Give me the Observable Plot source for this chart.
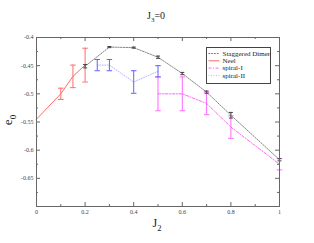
<!DOCTYPE html>
<html>
<head>
<meta charset="utf-8">
<script src="https://cdn.jsdelivr.net/npm/d3@7"></script>
<script src="https://cdn.jsdelivr.net/npm/@observablehq/plot@0.6"></script>
<style>
html,body{margin:0;padding:0;background:#fff;}
</style>
</head>
<body>
<div id="chart"></div>
<script>
// ---- data ----
const dimerJ2  = [0.2, 0.3, 0.4, 0.5, 0.6, 0.7, 0.8, 1.0];
const dimerE   = [-0.451, -0.417, -0.418, -0.435, -0.464, -0.497, -0.538, -0.617];
const dimerErr = [0.003, 0.001, 0.001, 0.002, 0.002, 0.002, 0.005, 0.002];

const neelJ2  = [0, 0.1, 0.15, 0.2];
const neelE   = [-0.545, -0.5, -0.469, -0.449];
const neelErr = [0, 0.01, 0.02, 0.03];

const spiral1J2  = [0.5, 0.6, 0.7, 0.8, 1.0];
const spiral1E   = [-0.5, -0.5, -0.517, -0.559, -0.625];
const spiral1Err = [0.03, 0.03, 0.02, 0.02, 0.01];

const spiral2J2  = [0.25, 0.3, 0.4, 0.5];
const spiral2E   = [-0.449, -0.449, -0.479, -0.46];
const spiral2Err = [0.01, 0.01, 0.02, 0.01];

const xTickLabels = [0, 0.2, 0.4, 0.6, 0.8, 1];
const xMinorTicks = [0.1, 0.3, 0.5, 0.7, 0.9];
const yTickLabels = [-0.65, -0.6, -0.55, -0.5, -0.45, -0.4];
const yMinorTicks = [-0.675, -0.625, -0.575, -0.525, -0.475, -0.425];

const seriesNames = ["Staggered Dimer", "Neel", "spiral-I", "spiral-II"];

// ---- build tables ----
const zip = (xs, ys, es) => xs.map((x, i) => ({x, y: ys[i], e: es[i]}));
const dimer = zip(dimerJ2, dimerE, dimerErr);
const neel = zip(neelJ2, neelE, neelErr);
const spiral1 = zip(spiral1J2, spiral1E, spiral1Err);
const spiral2 = zip(spiral2J2, spiral2E, spiral2Err);

const W = 314, H = 243, mL = 36, mR = 35, mT = 37, mB = 37;
const innerW = W - mL - mR, innerH = H - mT - mB;

const cap = (hw) => ({draw(ctx) { ctx.moveTo(-hw, 0); ctx.lineTo(hw, 0); }});

function errBars(data, color, hw) {
  const d = data.filter(p => p.e > 0);
  return [
    Plot.ruleX(d, {x: "x", y1: p => p.y - p.e, y2: p => p.y + p.e, stroke: color, strokeWidth: 1}),
    Plot.dot(d, {x: "x", y: p => p.y - p.e, symbol: cap(hw), stroke: color, fill: "none", strokeWidth: 1}),
    Plot.dot(d, {x: "x", y: p => p.y + p.e, symbol: cap(hw), stroke: color, fill: "none", strokeWidth: 1})
  ];
}

const cDimer = "#6a6a6a", cNeel = "#ff6a6a", cS1 = "#ff66ff", cS2line = "#b8b8ff", cS2bar = "#6060ff";
const axisColor = "#666";
const dashDimer = "1.6,1.2", dashS1 = "3,1.5,1,1.5", dashS2 = "1,1.5";

const chart = Plot.plot({
  width: W, height: H,
  marginLeft: mL, marginRight: mR, marginTop: mT, marginBottom: mB,
  x: {domain: [0, 1]},
  y: {domain: [-0.7, -0.4]},
  style: {fontFamily: "Liberation Serif, Times New Roman, serif", fontSize: "6px", color: "#444", background: "#fff"},
  marks: [
    // data lines
    Plot.line(spiral2, {x: "x", y: "y", stroke: cS2line, strokeWidth: 1, strokeDasharray: dashS2}),
    Plot.line(spiral1, {x: "x", y: "y", stroke: cS1, strokeWidth: 1, strokeDasharray: dashS1}),
    Plot.line(neel, {x: "x", y: "y", stroke: cNeel, strokeWidth: 1}),
    Plot.line(dimer, {x: "x", y: "y", stroke: cDimer, strokeWidth: 0.8, strokeDasharray: dashDimer}),
    ...errBars(spiral1, cS1, 2.75),
    ...errBars(spiral2, cS2bar, 2.75),
    ...errBars(neel, cNeel, 2.75),
    ...errBars(dimer, "#444", 2),
    // ticks (inward, all four sides)
    Plot.tickX(xTickLabels, {x: d => d, insetTop: innerH - 4, stroke: axisColor}),
    Plot.tickX(xTickLabels, {x: d => d, insetBottom: innerH - 4, stroke: axisColor}),
    Plot.tickX(xMinorTicks, {x: d => d, insetTop: innerH - 2, stroke: axisColor}),
    Plot.tickX(xMinorTicks, {x: d => d, insetBottom: innerH - 2, stroke: axisColor}),
    Plot.tickY(yTickLabels, {y: d => d, insetRight: innerW - 4, stroke: axisColor}),
    Plot.tickY(yTickLabels, {y: d => d, insetLeft: innerW - 4, stroke: axisColor}),
    Plot.tickY(yMinorTicks, {y: d => d, insetRight: innerW - 2, stroke: axisColor}),
    Plot.tickY(yMinorTicks, {y: d => d, insetLeft: innerW - 2, stroke: axisColor}),
    Plot.frame({stroke: axisColor, strokeWidth: 1}),
    Plot.axisX({ticks: xTickLabels, tickSize: 0, tickPadding: 3, tickFormat: d => String(d), label: null}),
    Plot.axisY({ticks: yTickLabels, tickSize: 0, tickPadding: 3, tickFormat: d => String(d), label: null})
  ]
});

document.getElementById("chart").appendChild(chart);

// ---- title, axis labels, legend ----
const svg = d3.select(chart);
const serif = "Liberation Serif, Times New Roman, serif";

const title = svg.append("text").attr("x", 156).attr("y", 18.5).attr("text-anchor", "middle")
  .attr("font-family", serif).attr("font-size", 10).attr("fill", "#222");
title.append("tspan").text("J");
title.append("tspan").attr("font-size", 7).attr("dy", 3).text("3");
title.append("tspan").attr("dy", -3).text("=0");

const xl = svg.append("text").attr("x", 157).attr("y", 226.5).attr("text-anchor", "middle")
  .attr("font-family", serif).attr("font-size", 12).attr("fill", "#222");
xl.append("tspan").text("J");
xl.append("tspan").attr("font-size", 8.5).attr("dy", 4).text("2");

const yl = svg.append("text").attr("transform", "translate(11.5,120) rotate(-90)").attr("text-anchor", "middle")
  .attr("font-family", serif).attr("font-size", 13).attr("fill", "#222");
yl.append("tspan").text("e");
yl.append("tspan").attr("font-size", 9).attr("dy", 4.5).text("0");

const lg = svg.append("g").attr("font-family", serif).attr("font-size", 7).attr("fill", "#222")
  .attr("text-anchor", "start");
lg.append("rect").attr("x", 206.5).attr("y", 47.5).attr("width", 64).attr("height", 36)
  .attr("fill", "#fff").attr("stroke", "#444").attr("stroke-width", 1);
const legendStyles = [
  {stroke: cDimer, dash: dashDimer},
  {stroke: cNeel, dash: null},
  {stroke: cS1, dash: dashS1},
  {stroke: cS2line, dash: dashS2}
];
seriesNames.forEach((name, i) => {
  const y = 53.5 + i * 7.3;
  lg.append("line").attr("x1", 208.5).attr("x2", 219.5).attr("y1", y).attr("y2", y)
    .attr("stroke", legendStyles[i].stroke).attr("stroke-width", 1)
    .attr("stroke-dasharray", legendStyles[i].dash);
  lg.append("text").attr("x", 222.5).attr("y", y + 2.3).attr("text-anchor", "start").text(name);
});
</script>
</body>
</html>
